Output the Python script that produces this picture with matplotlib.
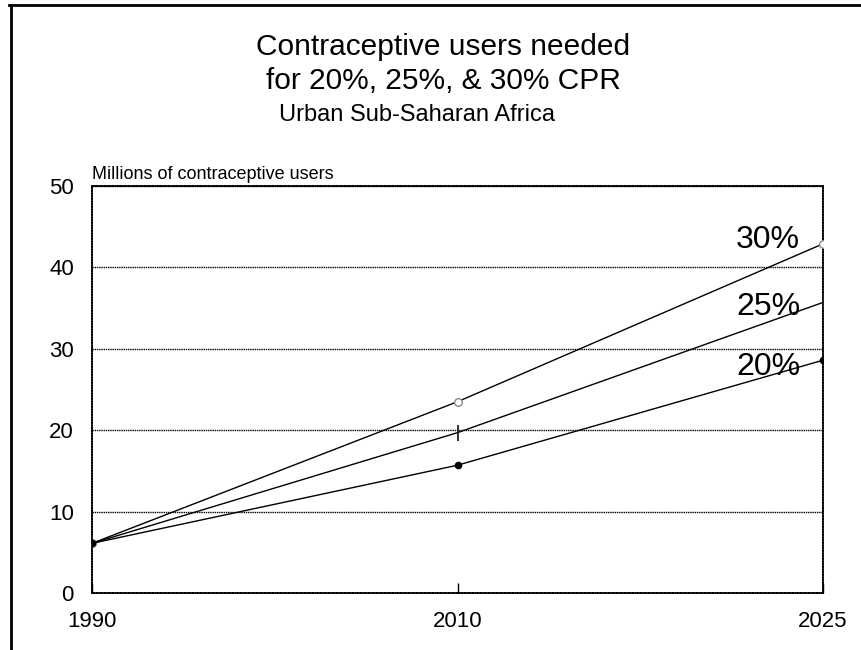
import matplotlib.pyplot as plt
from matplotlib.lines import Line2D

plt.rcParams['font.family'] = ['Liberation Sans', 'DejaVu Sans']

# Years shown as evenly spaced categories
years = ['1990', '2010', '2025']

# Millions of contraceptive users needed at each CPR level
cpr_20 = [6.1, 15.7, 28.6]
cpr_25 = [6.1, 19.7, 35.7]
cpr_30 = [6.1, 23.5, 42.9]
series_labels = ['20%', '25%', '30%']

y_ticks = [0, 10, 20, 30, 40, 50]


def main():
    fig = plt.figure(figsize=(8.62, 6.5), dpi=100)
    ax = fig.add_axes([0.1067, 0.0877, 0.8481, 0.6261])

    x = list(range(len(years)))
    # 30% drawn first so the filled 20% marker sits on top at the shared start point
    styles = [
        (cpr_30, dict(marker='o', markersize=5.5, markerfacecolor='white', markeredgecolor='#888888',
                      markeredgewidth=1.0)),
        (cpr_25, dict(marker='|', markersize=12, markeredgecolor='#222222', markeredgewidth=1.3)),
        (cpr_20, dict(marker='o', markersize=4.5, markerfacecolor='black', markeredgecolor='black')),
    ]
    for values, kw in styles:
        ax.plot(x, values, color='black', linewidth=1.0, zorder=3, **kw)

    # Series labels near the 2025 end of each line
    offsets = [(-23, -7), (-23, -5), (-23, 4)]
    for values, label, (dx, dy) in zip([cpr_20, cpr_25, cpr_30], series_labels, offsets):
        ax.annotate(label, xy=(x[-1], values[-1]), xytext=(dx, dy), textcoords='offset pixels',
                    ha='right', va='center', fontsize=23, zorder=4)

    ax.set_xlim(0, len(years) - 1)
    ax.set_ylim(0, 50)
    ax.set_xticks(x)
    ax.set_xticklabels(years)
    ax.set_yticks(y_ticks)

    # Dotted grid and frame
    ax.yaxis.grid(True, color='black', linestyle=(0, (1, 0.6)), linewidth=1.0)
    ax.set_axisbelow(True)
    for spine in ax.spines.values():
        spine.set_linestyle((0, (1, 0.6)))
        spine.set_linewidth(1.2)

    ax.tick_params(axis='y', length=0, pad=13, labelsize=16)
    ax.tick_params(axis='x', direction='in', length=7, width=1.0, pad=13, labelsize=16)

    ax.text(0, 1.008, 'Millions of contraceptive users', transform=ax.transAxes,
            ha='left', va='bottom', fontsize=13)

    # Titles
    fig.text(0.514, 0.928, 'Contraceptive users needed', ha='center', va='center', fontsize=21.5)
    fig.text(0.514, 0.875, 'for 20%, 25%, & 30% CPR', ha='center', va='center', fontsize=21.5)
    fig.text(0.4838, 0.823, 'Urban Sub-Saharan Africa', ha='center', va='center', fontsize=17)

    # Outer frame on the left and top edges
    fig.add_artist(Line2D([0.0128, 0.0128], [0.0, 0.992], transform=fig.transFigure,
                          color='black', linewidth=2))
    fig.add_artist(Line2D([0.0105, 1.0], [0.992, 0.992], transform=fig.transFigure,
                          color='black', linewidth=2))

    plt.savefig('out.png', dpi=100)


if __name__ == '__main__':
    main()
